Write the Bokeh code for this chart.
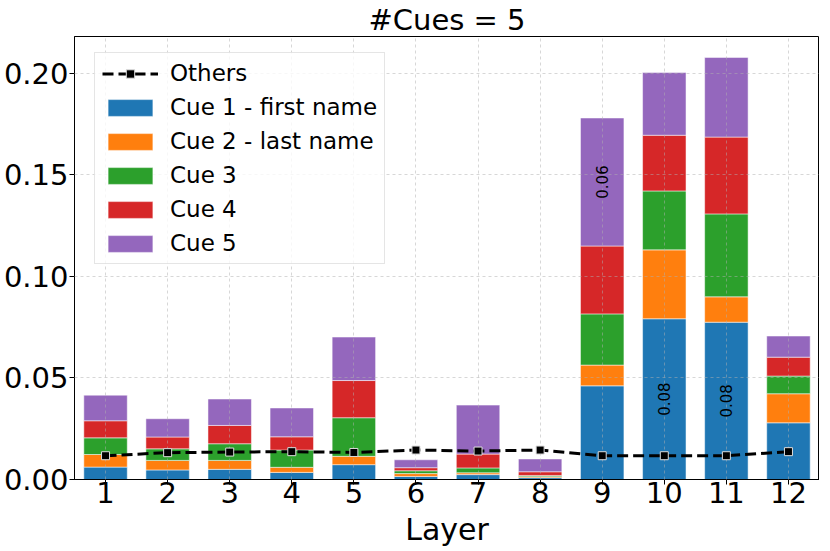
from bokeh.plotting import figure
from bokeh.models import ColumnDataSource, FixedTicker, NumeralTickFormatter, Legend, LegendItem, Range1d
from bokeh.core.properties import value
from bokeh.embed import file_html
from bokeh.resources import INLINE
import math

layers = [1, 2, 3, 4, 5, 6, 7, 8, 9, 10, 11, 12]
cue1 = [0.0061, 0.0047, 0.0050, 0.0035, 0.0073, 0.0015, 0.0024, 0.0009, 0.0461, 0.0791, 0.0774, 0.0279]
cue2 = [0.0062, 0.0047, 0.0044, 0.0025, 0.0041, 0.0014, 0.0009, 0.0005, 0.0102, 0.0339, 0.0125, 0.0143]
cue3 = [0.0082, 0.0057, 0.0082, 0.0085, 0.0190, 0.0014, 0.0024, 0.0006, 0.0252, 0.0290, 0.0408, 0.0087]
cue4 = [0.0084, 0.0058, 0.0090, 0.0065, 0.0183, 0.0015, 0.0068, 0.0018, 0.0334, 0.0274, 0.0378, 0.0093]
cue5 = [0.0126, 0.0090, 0.0130, 0.0142, 0.0214, 0.0039, 0.0241, 0.0063, 0.0630, 0.0309, 0.0392, 0.0104]
others = [0.0117, 0.0132, 0.0135, 0.0137, 0.0133, 0.0145, 0.0140, 0.0145, 0.0117, 0.0117, 0.0117, 0.0137]
cue_names = ["Cue 1 - first name", "Cue 2 - last name", "Cue 3", "Cue 4", "Cue 5"]
colors = ["#1f77b4", "#ff7f0e", "#2ca02c", "#d62728", "#9467bd"]
y_ticks = [0.0, 0.05, 0.10, 0.15, 0.20]
title_text = "#Cues = 5"
x_label = "Layer"
label_threshold = 0.05

FONT = "DejaVu Sans"
keys = ["c1", "c2", "c3", "c4", "c5"]
series = [cue1, cue2, cue3, cue4, cue5]
data = {"layer": layers}
for k, s in zip(keys, series):
    data[k] = s
src = ColumnDataSource(data)

p = figure(frame_width=745, frame_height=443, x_range=Range1d(0.5, 12.5), y_range=Range1d(0, 0.218),
           output_backend="svg", toolbar_location=None,
           min_border_left=68, min_border_right=0, min_border_top=27, min_border_bottom=40)

bars = p.vbar_stack(keys, x="layer", width=0.7, color=colors, source=src,
                    line_color="white", line_alpha=0.5, line_width=1)

# value labels inside large segments
lx, ly, lt = [], [], []
for i, L in enumerate(layers):
    bottom = 0.0
    for s in series:
        v = s[i]
        if v > label_threshold:
            lx.append(L)
            ly.append(bottom + v / 2)
            lt.append(f"{v:.2f}")
        bottom += v
tr = p.text(x=lx, y=ly, text=lt, angle=math.pi / 2, text_align="center", text_baseline="middle",
            text_font=value(FONT), text_font_size="15px", text_color="black")
tr.level = "annotation"

ln = p.line(layers, others, line_color="black", line_width=3, line_dash="11 5")
ln.level = "annotation"
mk = p.scatter(layers, others, marker="square", size=8, fill_color="black",
               line_color="#dddddd", line_width=1)
mk.level = "annotation"

items = [LegendItem(label="Others", renderers=[ln, mk])]
for name, r in zip(cue_names, bars):
    items.append(LegendItem(label=name, renderers=[r]))
legend = Legend(items=items, location=(20, 215), orientation="vertical",
                label_text_font=FONT, label_text_font_size="23px", label_text_color="black",
                glyph_width=56, glyph_height=21, label_standoff=12, spacing=8, padding=7,
                background_fill_alpha=0.8, border_line_color="#cccccc", border_line_width=1)
legend.level = "overlay"
p.add_layout(legend, "center")

p.title.text = title_text
p.title.text_font = FONT
p.title.text_font_size = "29px"
p.title.text_font_style = "normal"
p.title.text_color = "black"
p.title.align = "center"
p.title.standoff = 0
p.title.offset = 0

for ax in [p.xaxis[0], p.yaxis[0]]:
    ax.major_label_text_font = FONT
    ax.major_label_text_font_size = "29px"
    ax.major_label_text_color = "black"
    ax.axis_line_color = "black"
    ax.major_tick_line_color = "black"
    ax.major_tick_out = 5
    ax.major_tick_in = 0
    ax.minor_tick_line_color = None
p.xaxis.major_label_standoff = -3
p.yaxis.major_label_standoff = 1

p.xaxis.ticker = FixedTicker(ticks=layers)
p.yaxis.ticker = FixedTicker(ticks=y_ticks)
p.yaxis.formatter = NumeralTickFormatter(format="0.00")

p.xaxis.axis_label = x_label
p.xaxis.axis_label_text_font = FONT
p.xaxis.axis_label_text_font_size = "30px"
p.xaxis.axis_label_text_font_style = "normal"
p.xaxis.axis_label_text_color = "black"
p.xaxis.axis_label_standoff = 6

for g in [p.xgrid[0], p.ygrid[0]]:
    g.grid_line_color = "#b0b0b0"
    g.grid_line_alpha = 0.5
    g.grid_line_dash = "3 3"
    g.grid_line_width = 1
    g.level = "guide"
p.xgrid.ticker = FixedTicker(ticks=layers)
p.ygrid.ticker = FixedTicker(ticks=y_ticks)

p.outline_line_color = "black"
p.outline_line_width = 1
p.background_fill_color = "white"
p.border_fill_color = "white"

open("out.html", "w").write(file_html(p, INLINE))
